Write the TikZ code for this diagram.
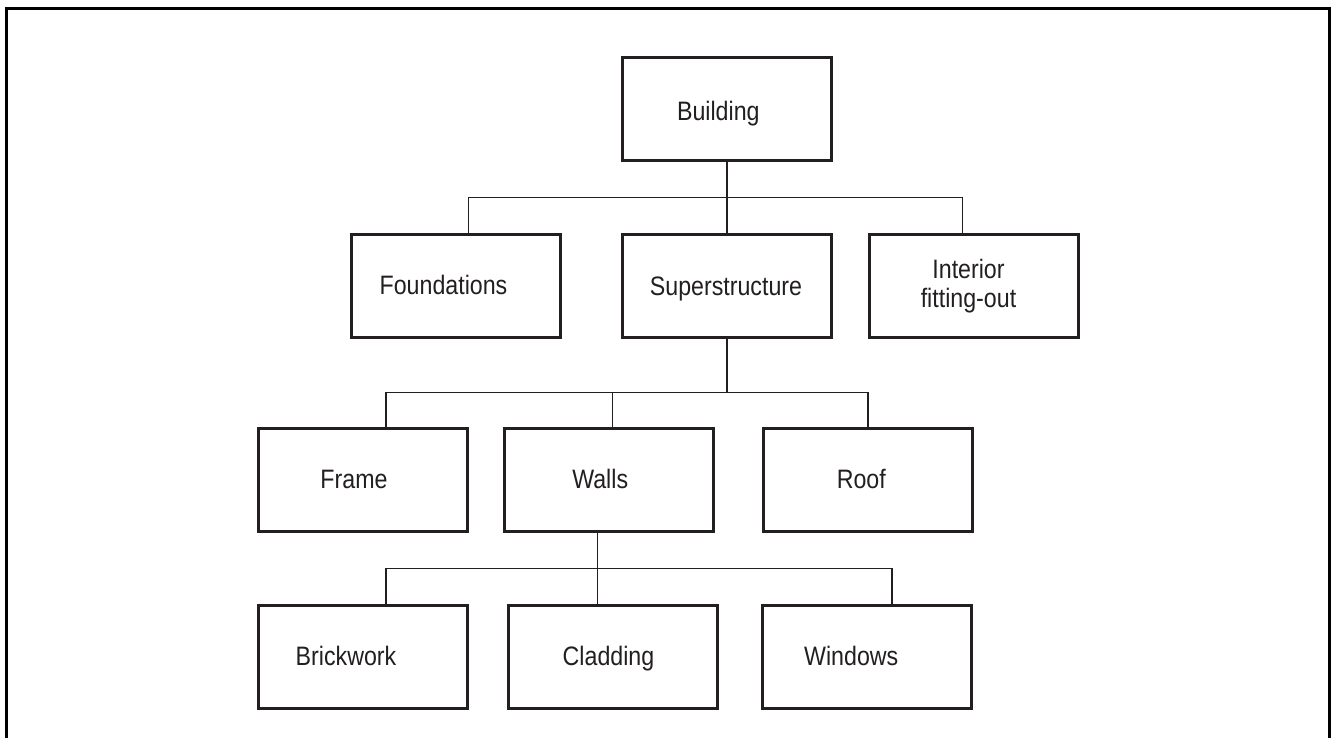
\documentclass[tikz,border=0pt]{standalone}
\usepackage{fontspec}
\setmainfont{Liberation Sans}[FakeStretch=0.87]
\definecolor{ink}{HTML}{231F20}
\begin{document}
\begin{tikzpicture}[
  x=0.75pt, y=-0.75pt,
  box/.style={draw=ink, line width=2.25pt, minimum width=156.75pt,
              minimum height=77.25pt, inner sep=0pt},
  lbl/.style={font=\fontsize{20}{21.75}\selectfont, text=ink,
              anchor=base, inner sep=0pt},
  conn/.style={draw=ink, line width=1.1pt, line join=miter},
]
% page area and outer frame
\clip (0,0) rectangle (1336,738);
\fill[white] (0,0) rectangle (1336,738);
\draw[black, line width=2.5pt] (6.8,8.5) rectangle (1329.7,780);

% boxes
\node[box] (building)       at (727,109)   {};
\node[box] (foundations)    at (456,285.7) {};
\node[box] (superstructure) at (727,285.7) {};
\node[box] (interior)       at (973.5,285.7) {};
\node[box] (frame)          at (363,480)   {};
\node[box] (walls)          at (609,480)   {};
\node[box] (roof)           at (868,480)   {};
\node[box] (brickwork)      at (362.5,656.5) {};
\node[box] (cladding)       at (613,656.5) {};
\node[box] (windows)        at (867,656.5) {};

% labels
\node[lbl] (t-building)       at (718.3,121)  {Building};
\node[lbl] (t-foundations)    at (443.5,294.5) {Foundations};
\node[lbl] (t-superstructure) at (726,295.5)  {Superstructure};
\node[lbl, anchor=center, align=center] (t-interior) at (968.5,286)
  {Interior\\fitting-out};
\node[lbl] (t-frame)          at (354,488.3)  {Frame};
\node[lbl] (t-walls)          at (600.2,488.3) {Walls};
\node[lbl] (t-roof)           at (861.3,488.3) {Roof};
\node[lbl] (t-brickwork)      at (346,665)    {Brickwork};
\node[lbl] (t-cladding)       at (608.5,665)  {Cladding};
\node[lbl] (t-windows)        at (851.2,665)  {Windows};

% bus junctions
\coordinate (busA-l) at (468.3,197.3);
\coordinate (busA-r) at (962.3,197.3);
\coordinate (busB-l) at (386,392.3);
\coordinate (busB-m) at (612.7,392.3);
\coordinate (busB-r) at (868,392.3);
\coordinate (busC-l) at (386,568.3);
\coordinate (busC-r) at (891.8,568.3);

% level 1 -> level 2
\draw[conn] (building) -- (superstructure);
\draw[conn] (busA-l |- foundations.north) |- (busA-r) -- (busA-r |- interior.north);

% superstructure -> level 3
\draw[conn] (superstructure.south) -- (superstructure.south |- busB-r);
\draw[conn] (busB-l |- frame.north) |- (busB-r) -- (busB-r |- roof.north);
\draw[conn] (busB-m) -- (busB-m |- walls.north);

% walls -> level 4
\draw[conn] (walls.south -| 597.7,0) -- (cladding.north -| 597.7,0);
\draw[conn] (busC-l |- brickwork.north) |- (busC-r) -- (busC-r |- windows.north);
\end{tikzpicture}
\end{document}
